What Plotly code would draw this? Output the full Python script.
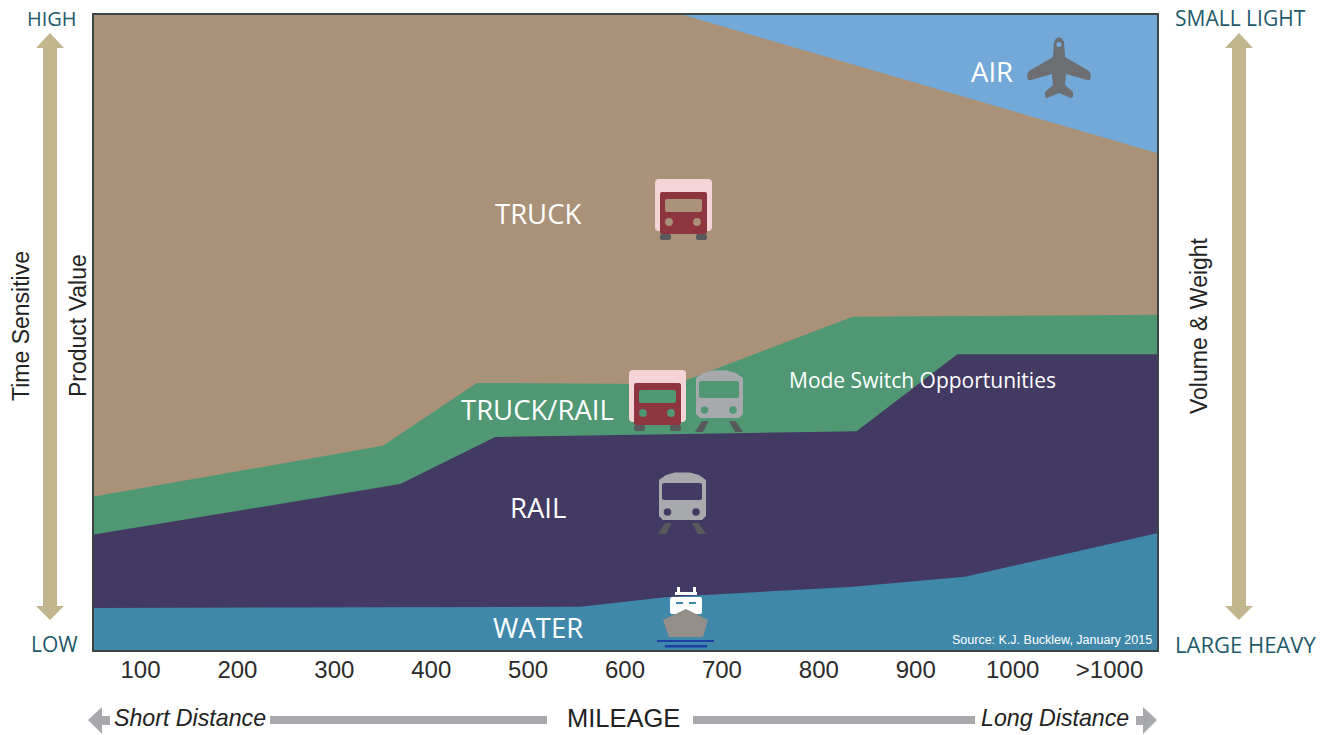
import plotly.graph_objects as go

# ---- data (mileage on x, relative position 0-100 on y) ----
air_x = [50, 1150]
air_y = [100, 100]
truck_x = [50, 657, 1150]
truck_y = [100, 100, 78.1]
truckrail_x = [50, 350, 447, 652, 835, 1150]
truckrail_y = [24.1, 32.1, 42.0, 41.8, 52.4, 52.7]
rail_x = [50, 368, 466, 839, 943, 1150]
rail_y = [18.1, 26.1, 33.5, 34.4, 46.5, 46.5]
water_x = [50, 554, 641, 832, 951, 1150]
water_y = [6.6, 6.8, 8.3, 9.9, 11.5, 18.4]
tick_vals = [100, 200, 300, 400, 500, 600, 700, 800, 900, 1000, 1100]
tick_text = ["100", "200", "300", "400", "500", "600", "700", "800", "900", "1000", ">1000"]

W, H = 1330, 735
L, R, T, B = 94, 1157, 15, 650
SANS = "Liberation Sans"
OPEN = "Open Sans"
TEAL = "#1f5a6b"
TAN = "#c2b68e"
GREY = "#a7a9ad"
DARK = "#58595b"


def px(x):
    return (x - L) / (R - L)


def py(y):
    return (B - y) / (B - T)


def path(points, close=True):
    s = "M " + " L ".join(f"{px(x):.5f},{py(y):.5f}" for x, y in points)
    return s + (" Z" if close else "")


shapes = []


def poly(points, color):
    shapes.append(dict(type="path", xref="paper", yref="paper", path=path(points),
                       fillcolor=color, line=dict(width=0), layer="above"))


def rect(x0, y0, x1, y1, color):
    poly([(x0, y0), (x1, y0), (x1, y1), (x0, y1)], color)


def rrect(x0, y0, x1, y1, r, color):
    k = r * 0.3
    poly([(x0 + r, y0), (x1 - r, y0), (x1 - k, y0 + k), (x1, y0 + r), (x1, y1 - r), (x1 - k, y1 - k),
          (x1 - r, y1), (x0 + r, y1), (x0 + k, y1 - k), (x0, y1 - r), (x0, y0 + r), (x0 + k, y0 + k)], color)


def circle(cx, cy, r, color):
    shapes.append(dict(type="circle", xref="paper", yref="paper",
                       x0=px(cx - r), x1=px(cx + r), y0=py(cy + r), y1=py(cy - r),
                       fillcolor=color, line=dict(width=0), layer="above"))


def truck(dx, dy, hole):
    rrect(655 + dx, 179 + dy, 712 + dx, 231 + dy, 3, "#f6d3d7")
    rrect(660 + dx, 192 + dy, 707 + dx, 234 + dy, 2, "#8f3540")
    rrect(665 + dx, 199 + dy, 702 + dx, 212 + dy, 2, hole)
    circle(669 + dx, 222 + dy, 3.9, hole)
    circle(697 + dx, 222 + dy, 3.9, hole)
    rrect(660 + dx, 234 + dy, 671 + dx, 240 + dy, 2, DARK)
    rrect(696 + dx, 234 + dy, 707 + dx, 240 + dy, 2, DARK)


def train(dx, dy, hole):
    poly([(696 + dx, 378 + dy), (703 + dx, 373 + dy), (712 + dx, 370.5 + dy), (727 + dx, 370.5 + dy),
          (736 + dx, 373 + dy), (743 + dx, 378 + dy), (743 + dx, 414 + dy), (739 + dx, 418 + dy),
          (700 + dx, 418 + dy), (696 + dx, 414 + dy)], GREY)
    rrect(699 + dx, 381 + dy, 739 + dx, 398 + dy, 2, hole)
    circle(704.5 + dx, 410 + dy, 3.8, hole)
    circle(733 + dx, 410 + dy, 3.8, hole)
    poly([(702 + dx, 421 + dy), (708.5 + dx, 421 + dy), (703 + dx, 432 + dy), (695 + dx, 432 + dy)], DARK)
    poly([(729 + dx, 421 + dy), (735.5 + dx, 421 + dy), (743 + dx, 432 + dy), (735 + dx, 432 + dy)], DARK)


truck(0, 0, "#aa9279")
truck(-26, 191, "#4f9873")
train(0, 0, "#4f9873")
train(-37, 102, "#433a63")

# ship
rect(677, 587, 680, 593, "#ffffff")
rect(693, 587, 696, 593, "#ffffff")
rect(675, 592, 697, 595, "#ffffff")
rrect(670, 597, 702, 614, 2, "#ffffff")
rect(676, 602, 683, 604, "#3f88aa")
rect(689, 602, 696, 604, "#3f88aa")
poly([(663, 620), (686, 609), (708, 620), (703, 637), (669, 637)], "#948e88")
rect(657, 640, 714, 642, "#1f3fa5")
rect(665, 645, 707, 647.5, "#1f3fa5")

# plane
PLANE = "#6d6e71"
poly([(1054, 42), (1056, 38.5), (1059, 37), (1062, 38.5), (1064, 42), (1065, 57), (1089, 71),
      (1091, 75), (1090, 80), (1087, 80), (1066, 74), (1065, 85), (1073, 92), (1073, 97), (1071, 98),
      (1059, 93), (1047, 98), (1045, 97), (1045, 92), (1053, 85), (1052, 74), (1031, 80), (1028, 80),
      (1027, 75), (1029, 71), (1053, 57)], PLANE)
circle(1059, 44.5, 2.6, "#72a9d8")

# tan vertical arrows
for cx in (50, 1239):
    poly([(cx, 33), (cx + 14, 48), (cx + 7, 48), (cx + 7, 606), (cx + 14, 606), (cx, 620),
          (cx - 14, 606), (cx - 7, 606), (cx - 7, 48), (cx - 14, 48)], TAN)

# grey horizontal arrows
poly([(88, 720), (102, 707), (102, 716), (110, 716), (110, 725), (102, 725), (102, 734)], GREY)
rect(270, 716, 547, 724, GREY)
rect(693, 716, 975, 724, GREY)
poly([(1157, 720), (1143, 707), (1143, 716), (1136, 716), (1136, 725), (1143, 725), (1143, 734)], GREY)

ann = []


def text(s, x, y, size, color, family=SANS, angle=0, italic=False):
    ann.append(dict(text=s, xref="paper", yref="paper", x=px(x), y=py(y), xanchor="center", yanchor="middle",
                    showarrow=False, textangle=angle,
                    font=dict(size=size, color=color, family=family, style="italic" if italic else "normal")))


text("HIGH", 52, 18, 20, TEAL, OPEN)
text("LOW", 54, 644, 21, TEAL, OPEN)
text("SMALL LIGHT", 1240, 18, 21, TEAL, OPEN)
text("LARGE HEAVY", 1245, 644, 22, TEAL, OPEN)
text("AIR", 992, 71, 27.5, "#ffffff", OPEN)
text("TRUCK", 538, 213.5, 27.5, "#ffffff", OPEN)
text("TRUCK/RAIL", 537, 409.5, 27.5, "#ffffff", OPEN)
text("RAIL", 538, 507, 27.5, "#ffffff", OPEN)
text("WATER", 538, 627.5, 27.5, "#ffffff", OPEN)
text("Mode Switch Opportunities", 922, 380, 21, "#ffffff", OPEN)
text("Source: K.J. Bucklew, January 2015", 1052, 640, 12.5, "#ffffff", SANS)
text("Time Sensitive", 21, 326, 23, "#222222", SANS, angle=-90)
text("Product Value", 78, 326, 23, "#222222", SANS, angle=-90)
text("Volume &amp; Weight", 1199, 326, 23, "#222222", SANS, angle=-90)
text("MILEAGE", 623, 718, 25.5, "#222222", SANS)
text("Short Distance", 190, 718, 23.2, "#222222", SANS, italic=True)
text("Long Distance", 1055, 718, 23.2, "#222222", SANS, italic=True)

fig = go.Figure()
for name, xs, ys, color in [
    ("AIR", air_x, air_y, "#72a9d8"),
    ("TRUCK", truck_x, truck_y, "#aa9279"),
    ("TRUCK/RAIL", truckrail_x, truckrail_y, "#4f9873"),
    ("RAIL", rail_x, rail_y, "#433a63"),
    ("WATER", water_x, water_y, "#3f88aa"),
]:
    fig.add_trace(go.Scatter(x=xs, y=ys, name=name, mode="lines", fill="tozeroy",
                             fillcolor=color, line=dict(width=0, color=color), showlegend=False,
                             hoverinfo="name"))

fig.update_layout(
    width=W, height=H, margin=dict(l=L, r=W - R, t=T, b=H - B, pad=0),
    paper_bgcolor="#ffffff", plot_bgcolor="#ffffff",
    shapes=shapes, annotations=ann,
    xaxis=dict(range=[52, 1149], tickvals=tick_vals, ticktext=tick_text, ticks="", showgrid=False,
               zeroline=False, showline=True, mirror=True, linecolor="#3c4446", linewidth=2,
               ticklabelstandoff=-3,
               tickfont=dict(family=SANS, size=24, color="#2b2b2b")),
    yaxis=dict(range=[0, 99.85], showticklabels=False, ticks="", showgrid=False, zeroline=False,
               showline=True, mirror=True, linecolor="#3c4446", linewidth=2),
)
fig.write_html("out.html", post_script="document.body.style.margin='0';",
               config=dict(displayModeBar=False))
